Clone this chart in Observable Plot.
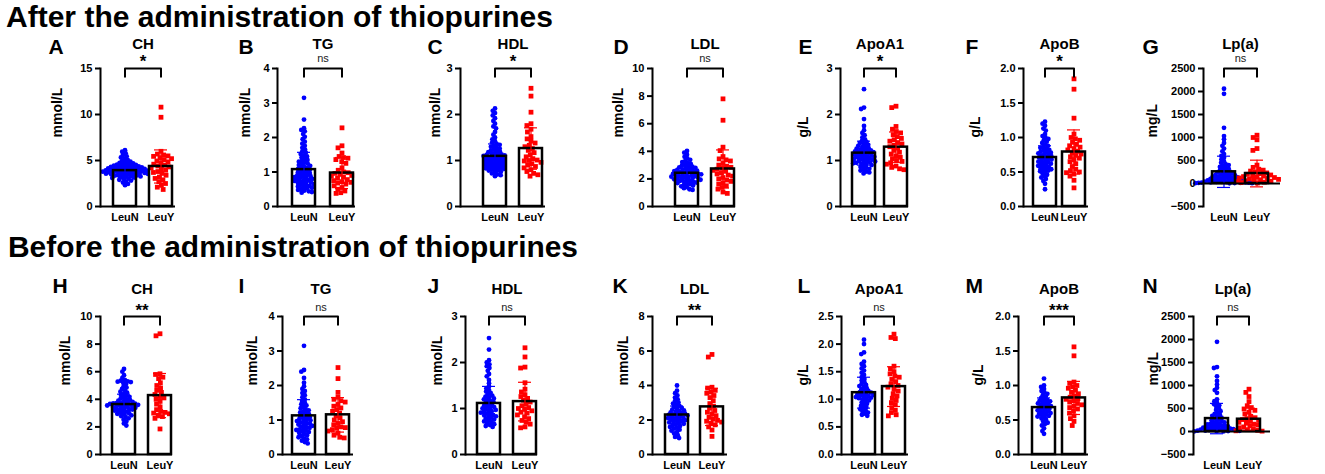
<!DOCTYPE html>
<html><head><meta charset="utf-8">
<script src="https://cdn.jsdelivr.net/npm/d3@7"></script>
<script src="https://cdn.jsdelivr.net/npm/@observablehq/plot@0.6"></script>
<style>
html,body{margin:0;padding:0;background:#fff;overflow:hidden}
#root{position:relative;width:1325px;height:474px;overflow:hidden}
</style></head><body><div id="root"></div>
<script>
// ---------------- DATA ----------------
const lipids = ["CH","TG","HDL","LDL","ApoA1","ApoB","Lp(a)"];
const units = ["mmol/L","mmol/L","mmol/L","mmol/L","g/L","g/L","mg/L"];
const groups = ["LeuN","LeuY"];
const rowTitles = ["After the administration of thiopurines","Before the administration of thiopurines"];
const lettersAfter = ["A","B","C","D","E","F","G"];
const lettersBefore = ["H","I","J","K","L","M","N"];
const sigAfter = ["*","ns","*","ns","*","*","ns"];
const sigBefore = ["**","ns","ns","**","ns","***","ns"];
const ticksAfter = [[0,5,10,15],[0,1,2,3,4],[0,1,2,3],[0,2,4,6,8,10],[0,1,2,3],[0,0.5,1,1.5,2],[-500,0,500,1000,1500,2000,2500]];
const ticksBefore = [[0,2,4,6,8,10],[0,1,2,3,4],[0,1,2,3],[0,2,4,6,8],[0,0.5,1,1.5,2,2.5],[0,0.5,1,1.5,2],[-500,0,500,1000,1500,2000,2500]];

// bar means and SDs
const afterMeanN = [3.9, 1.07, 1.09, 2.41, 1.16, 0.71, 254];
const afterSdN   = [0.75, 0.5, 0.27, 0.55, 0.26, 0.17, 340];
const afterMeanY = [4.35, 0.97, 1.26, 2.72, 1.29, 0.79, 217];
const afterSdY   = [1.8, 0.45, 0.45, 1.38, 0.33, 0.32, 290];
const beforeMeanN = [3.62, 1.12, 1.11, 2.29, 1.12, 0.68, 281];
const beforeSdN   = [0.75, 0.47, 0.37, 0.52, 0.28, 0.14, 330];
const beforeMeanY = [4.27, 1.15, 1.15, 2.76, 1.23, 0.82, 267];
const beforeSdY   = [1.6, 0.5, 0.42, 1.08, 0.36, 0.24, 240];

// individual points — after
const chAfterN = [6.12,5.95,5.78,5.6,5.45,5.33,5.18,5.06,4.97,4.88,4.81,4.75,4.69,4.64,4.58,4.55,4.51,4.47,4.44,4.4,4.38,4.35,4.31,4.29,4.26,4.22,4.2,4.18,4.15,4.12,4.1,4.06,4.05,4.02,4.0,3.98,3.95,3.93,3.91,3.89,3.86,3.85,3.82,3.8,3.78,3.75,3.74,3.71,3.69,3.66,3.65,3.62,3.6,3.57,3.55,3.51,3.5,3.47,3.43,3.41,3.38,3.35,3.31,3.27,3.24,3.2,3.15,3.1,3.04,2.98,2.9,2.82,2.72,2.6,2.45,2.32];
const chAfterY = [10.8,9.7,6.0,5.7,5.6,5.5,5.45,5.3,5.2,5.1,4.95,4.85,4.75,4.6,4.5,4.4,4.3,4.2,4.1,3.95,3.8,3.7,3.6,3.4,3.2,3.05,2.9,2.7,2.5,2.3,2.1,1.85];
const tgAfterN = [3.15,2.52,2.27,2.22,2.18,2.1,2.02,1.95,1.88,1.82,1.76,1.7,1.65,1.6,1.56,1.52,1.48,1.45,1.42,1.38,1.35,1.32,1.3,1.27,1.24,1.22,1.2,1.18,1.15,1.13,1.11,1.09,1.07,1.05,1.03,1.01,0.99,0.97,0.95,0.93,0.91,0.9,0.88,0.86,0.85,0.83,0.82,0.8,0.79,0.77,0.76,0.74,0.73,0.71,0.7,0.68,0.66,0.65,0.63,0.61,0.6,0.58,0.56,0.54,0.52,0.5,0.48,0.46,0.44,0.42,0.4];
const tgAfterY = [2.28,1.76,1.7,1.55,1.45,1.42,1.4,1.36,1.3,1.25,1.12,1.05,1.0,0.98,0.96,0.93,0.9,0.88,0.85,0.82,0.78,0.75,0.72,0.7,0.68,0.65,0.6,0.55,0.5,0.45,0.4,0.38];
const hdlAfterN = [2.13,2.08,2.03,1.98,1.92,1.86,1.8,1.74,1.7,1.62,1.56,1.5,1.46,1.42,1.39,1.36,1.34,1.32,1.3,1.28,1.26,1.24,1.22,1.21,1.19,1.18,1.16,1.15,1.14,1.13,1.12,1.11,1.1,1.09,1.08,1.07,1.06,1.05,1.04,1.03,1.02,1.01,1.0,0.99,0.98,0.97,0.96,0.95,0.94,0.93,0.92,0.91,0.9,0.89,0.88,0.87,0.86,0.85,0.84,0.83,0.82,0.81,0.8,0.79,0.78,0.76,0.74,0.72,0.7,0.68,0.66];
const hdlAfterY = [2.57,2.4,2.05,1.8,1.76,1.68,1.62,1.52,1.47,1.42,1.38,1.33,1.3,1.26,1.22,1.17,1.12,1.08,1.04,1.01,1.0,0.99,0.96,0.93,0.9,0.87,0.84,0.8,0.76,0.72,0.69,0.66];
const ldlAfterN = [4.02,3.9,3.75,3.6,3.48,3.38,3.3,3.22,3.15,3.08,3.02,2.97,2.92,2.88,2.84,2.8,2.76,2.72,2.69,2.66,2.63,2.6,2.57,2.54,2.51,2.48,2.46,2.43,2.41,2.38,2.36,2.33,2.31,2.28,2.26,2.23,2.21,2.18,2.16,2.13,2.11,2.08,2.06,2.03,2.0,1.97,1.94,1.91,1.88,1.85,1.82,1.78,1.74,1.7,1.66,1.62,1.57,1.52,1.46,1.4,1.33,1.25,1.2];
const ldlAfterY = [7.8,6.25,4.3,4.05,3.62,3.45,3.38,3.3,3.12,3.0,2.92,2.84,2.78,2.7,2.62,2.55,2.45,2.36,2.28,2.2,2.1,2.0,1.92,1.82,1.72,1.62,1.5,1.38,1.26,1.05,0.95];
const apoa1AfterN = [2.55,2.15,2.12,1.9,1.75,1.66,1.6,1.55,1.5,1.46,1.43,1.4,1.38,1.36,1.34,1.32,1.3,1.29,1.27,1.26,1.24,1.23,1.22,1.21,1.2,1.19,1.18,1.17,1.16,1.15,1.14,1.13,1.12,1.11,1.1,1.09,1.08,1.07,1.06,1.05,1.04,1.03,1.02,1.01,1.0,0.99,0.98,0.97,0.96,0.95,0.94,0.93,0.92,0.9,0.88,0.86,0.84,0.82,0.8,0.78,0.76,0.74,0.72];
const apoa1AfterY = [2.18,2.15,1.74,1.68,1.63,1.6,1.56,1.52,1.48,1.45,1.42,1.39,1.36,1.33,1.3,1.27,1.22,1.18,1.14,1.1,1.07,1.04,1.0,0.98,0.95,0.92,0.88,0.85,0.82,0.8];
const apobAfterN = [1.23,1.2,1.17,1.13,1.1,1.05,1.02,1.0,0.98,0.96,0.94,0.92,0.9,0.88,0.86,0.85,0.84,0.82,0.81,0.8,0.79,0.78,0.77,0.76,0.75,0.74,0.73,0.72,0.71,0.7,0.69,0.68,0.67,0.66,0.65,0.64,0.63,0.62,0.61,0.6,0.59,0.58,0.57,0.56,0.55,0.54,0.53,0.52,0.51,0.5,0.48,0.46,0.44,0.42,0.4,0.37,0.33,0.25];
const apobAfterY = [1.85,1.7,1.28,1.05,1.0,0.98,0.96,0.93,0.9,0.88,0.86,0.84,0.82,0.8,0.78,0.76,0.74,0.72,0.7,0.68,0.65,0.62,0.58,0.54,0.52,0.5,0.49,0.47,0.44,0.38,0.27];
const lpaAfterN = [2060,1950,1210,1030,960,880,820,760,700,640,600,560,520,480,450,420,400,380,360,340,320,300,285,270,255,240,228,215,205,195,185,175,165,158,150,142,135,128,120,113,106,100,94,88,82,76,70,65,60,55,50,46,42,38,34,30,27,24,21,18,15,12,10,8,6,5];
const lpaAfterY = [1050,1000,950,760,720,400,350,310,290,270,250,230,215,200,185,170,160,150,140,130,120,110,100,90,80,70,60,50,40,30,20,10];

// individual points — before
const chBeforeN = [6.2,6.0,5.75,5.55,5.4,5.35,5.3,5.28,5.25,5.2,5.1,4.95,4.85,4.75,4.65,4.55,4.48,4.4,4.32,4.25,4.18,4.12,4.06,4.0,3.95,3.9,3.86,3.82,3.78,3.75,3.72,3.7,3.68,3.66,3.64,3.62,3.6,3.58,3.55,3.52,3.5,3.47,3.44,3.41,3.38,3.35,3.32,3.29,3.26,3.22,3.18,3.14,3.1,3.05,3.0,2.95,2.9,2.84,2.78,2.7,2.62,2.52,2.4,2.25,2.1];
const chBeforeY = [8.75,8.6,5.85,5.8,5.6,5.5,5.2,5.0,4.82,4.65,4.5,4.35,4.2,4.1,4.0,3.85,3.65,3.45,3.25,3.12,3.05,3.0,2.95,2.85,2.75,2.62,1.85];
const tgBeforeN = [3.15,2.45,2.4,2.22,2.08,1.98,1.9,1.84,1.78,1.72,1.66,1.6,1.55,1.5,1.46,1.42,1.38,1.34,1.31,1.28,1.25,1.22,1.2,1.17,1.15,1.12,1.1,1.08,1.05,1.03,1.01,0.99,0.97,0.95,0.93,0.91,0.89,0.87,0.85,0.83,0.81,0.79,0.77,0.75,0.73,0.71,0.69,0.67,0.65,0.62,0.59,0.56,0.53,0.5,0.47,0.44,0.4,0.36,0.32];
const tgBeforeY = [2.52,2.2,1.8,1.66,1.6,1.56,1.52,1.45,1.4,1.35,1.3,1.25,1.2,1.12,1.06,1.0,0.95,0.9,0.86,0.8,0.78,0.76,0.72,0.68,0.62,0.56,0.5,0.48];
const hdlBeforeN = [2.53,2.28,2.05,2.0,1.96,1.92,1.88,1.82,1.75,1.7,1.62,1.55,1.48,1.44,1.4,1.37,1.34,1.31,1.28,1.26,1.24,1.22,1.2,1.18,1.16,1.14,1.12,1.1,1.08,1.06,1.04,1.03,1.01,1.0,0.98,0.97,0.95,0.94,0.92,0.91,0.89,0.88,0.86,0.85,0.83,0.82,0.8,0.78,0.76,0.74,0.72,0.7,0.68,0.66,0.64,0.62,0.6];
const hdlBeforeY = [2.32,2.12,1.9,1.88,1.56,1.42,1.36,1.3,1.26,1.22,1.18,1.14,1.1,1.06,1.02,1.0,0.98,0.95,0.92,0.9,0.86,0.82,0.78,0.74,0.7,0.66,0.6,0.58];
const ldlBeforeN = [4.0,3.7,3.55,3.42,3.3,3.2,3.1,3.02,2.95,2.88,2.82,2.76,2.7,2.65,2.6,2.56,2.52,2.48,2.44,2.41,2.38,2.35,2.32,2.29,2.26,2.23,2.2,2.17,2.14,2.11,2.08,2.05,2.02,1.99,1.96,1.93,1.9,1.86,1.82,1.78,1.74,1.7,1.65,1.6,1.55,1.5,1.44,1.38,1.3,1.22,1.12,1.02,0.95];
const ldlBeforeY = [5.8,5.65,3.9,3.85,3.72,3.62,3.55,3.42,3.3,3.12,2.95,2.8,2.68,2.55,2.45,2.35,2.25,2.15,2.05,1.98,1.93,1.88,1.82,1.72,1.6,1.42,1.05];
const apoa1BeforeN = [2.08,2.0,1.85,1.82,1.68,1.64,1.6,1.56,1.52,1.48,1.44,1.4,1.37,1.34,1.31,1.28,1.26,1.24,1.22,1.2,1.18,1.16,1.15,1.13,1.12,1.11,1.1,1.09,1.08,1.07,1.06,1.05,1.04,1.03,1.02,1.01,1.0,0.98,0.96,0.94,0.92,0.9,0.88,0.86,0.84,0.82,0.8,0.78,0.76,0.74,0.72,0.7];
const apoa1BeforeY = [2.18,2.12,2.1,1.6,1.55,1.5,1.46,1.42,1.4,1.36,1.32,1.28,1.25,1.22,1.18,1.15,1.1,1.06,1.02,0.98,0.94,0.9,0.85,0.8,0.76,0.72,0.7];
const apobBeforeN = [1.1,1.0,0.98,0.95,0.92,0.9,0.88,0.86,0.84,0.82,0.8,0.79,0.78,0.77,0.76,0.75,0.74,0.73,0.72,0.71,0.7,0.69,0.68,0.67,0.66,0.65,0.64,0.63,0.62,0.61,0.6,0.59,0.58,0.57,0.56,0.55,0.54,0.52,0.5,0.48,0.46,0.44,0.42,0.38,0.34,0.3];
const apobBeforeY = [1.56,1.43,1.05,1.03,1.0,0.98,0.96,0.93,0.9,0.88,0.85,0.83,0.81,0.8,0.78,0.76,0.74,0.72,0.7,0.68,0.66,0.63,0.6,0.56,0.52,0.48,0.42];
const lpaBeforeN = [1950,1400,1380,1200,1100,1020,950,900,840,700,660,620,590,570,540,500,470,440,410,385,360,340,320,300,280,262,245,230,215,200,188,176,165,155,145,135,126,118,110,102,95,88,81,74,68,62,56,50,45,40,35,30,26,22,18,14,10,7,4,2];
const lpaBeforeY = [920,850,760,650,560,520,490,460,420,380,330,300,280,260,240,220,200,180,160,140,120,100,80,60,40,25,15,8];

// ---------------- LAYOUT (pixels) ----------------
const layout = [
  { frameTop: 68, titleDy: -24, letterDy: -21, sigDy: -10,
    axisX: [100,277,460,652,840,1023,1203], bar1L: [113,292,483,675,852,1033,1212],
    bar2R: [172,353,542,734,907,1085,1268], axisEnd: [175,355,545,735,908,1088,1280],
    letterX: [48,238,427,613,798,965,1142], labelX: [57,245,435,618,803,975,1152] },
  { frameTop: 316, titleDy: -27, letterDy: -30, sigDy: -9,
    axisX: [100,282,465,652,841,1018,1193], bar1L: [112,292,477,665,852,1032,1205],
    bar2R: [171,349,536,723,905,1085,1260], axisEnd: [172,353,537,727,908,1088,1270],
    letterX: [52,238,427,612,797,965,1142], labelX: [65,252,437,623,803,978,1153] }
];

const blue = "#0000ff", red = "#ff0000";
const font = "'Liberation Sans', Arial, Helvetica, sans-serif";
const root = document.getElementById("root");

// row titles
const tsvg = d3.create("svg").attr("width", 1325).attr("height", 474)
  .style("position", "absolute").style("left", "0px").style("top", "0px");
[[rowTitles[0], 6, 27, 547], [rowTitles[1], 8, 257, 570]].forEach(([t, x, y, len]) => {
  tsvg.append("text").attr("x", x).attr("y", y).attr("textLength", len).attr("lengthAdjust", "spacingAndGlyphs")
    .attr("font-family", font).attr("font-weight", 700).attr("font-size", 29)
    .attr("fill", "#000").text(t);
});
root.appendChild(tsvg.node());

const rows = [
  { letters: lettersAfter, sig: sigAfter, ticks: ticksAfter, meanN: afterMeanN, sdN: afterSdN, meanY: afterMeanY, sdY: afterSdY,
    valsN: [chAfterN, tgAfterN, hdlAfterN, ldlAfterN, apoa1AfterN, apobAfterN, lpaAfterN],
    valsY: [chAfterY, tgAfterY, hdlAfterY, ldlAfterY, apoa1AfterY, apobAfterY, lpaAfterY] },
  { letters: lettersBefore, sig: sigBefore, ticks: ticksBefore, meanN: beforeMeanN, sdN: beforeSdN, meanY: beforeMeanY, sdY: beforeSdY,
    valsN: [chBeforeN, tgBeforeN, hdlBeforeN, ldlBeforeN, apoa1BeforeN, apobBeforeN, lpaBeforeN],
    valsY: [chBeforeY, tgBeforeY, hdlBeforeY, ldlBeforeY, apoa1BeforeY, apobBeforeY, lpaBeforeY] }
];

function panel(r, i) {
  const row = rows[r], L = layout[r];
  const mL = 60, mR = 8, mT = 45, mB = 28, fh = 138;
  const axisX = L.axisX[i];
  const frameW = L.axisEnd[i] - axisX;
  const width = mL + frameW + mR, height = mT + fh + mB;
  const r0 = L.bar1L[i] - axisX + mL, r1 = L.bar2R[i] - axisX + mL;
  const bw = 23, W = r1 - r0;
  const pin = (W - 2 * bw) / (W - bw);
  const c1 = r0 + bw / 2, c2 = r1 - bw / 2, fc = mL + frameW / 2, cm = (c1 + c2) / 2;
  const ticks = row.ticks[i];
  const ymin = d3.min(ticks), ymax = d3.max(ticks);
  const drop = (ymax - ymin) * 0.06;
  const summary = [
    { g: groups[0], m: row.meanN[i], s: row.sdN[i], c: blue },
    { g: groups[1], m: row.meanY[i], s: row.sdY[i], c: red }
  ];
  const caps = summary.flatMap(d => [{ g: d.g, v: d.m - d.s, c: d.c }, { g: d.g, v: d.m + d.s, c: d.c }]);
  const bracket = [{ g: groups[0], v: ymax - drop }, { g: groups[0], v: ymax }, { g: groups[1], v: ymax }, { g: groups[1], v: ymax - drop }];
  const dec = ticks.some(t => !Number.isInteger(t));
  const sig = row.sig[i], isNs = sig === "ns";
  // Plot shifts marks with an x channel on a band scale by bandwidth/2
  const shift = bw / 2;
  const chart = Plot.plot({
    width, height, marginLeft: mL, marginRight: mR, marginTop: mT, marginBottom: mB,
    style: { background: "transparent", overflow: "visible", fontFamily: font, fontWeight: "bold", fontSize: "11px", color: "black" },
    x: { type: "band", domain: groups, range: [r0, r1], paddingInner: pin, paddingOuter: 0, align: 0.5 },
    y: { domain: [ymin, ymax] },
    color: { type: "identity" },
    marks: [
      Plot.barY(summary, { x: "g", y: "m", fill: "white" }),
      Plot.dot(row.valsN[i], Plot.dodgeX({ anchor: "middle", r: 1.6, padding: 0 }, { y: d => d, r: 2.4, fill: blue, dx: c1 - fc - shift })),
      Plot.dot(row.valsY[i], Plot.dodgeX({ anchor: "middle", r: 2.1, padding: 0.3 }, { y: d => d, r: 2.7, symbol: "square", fill: red, dx: c2 - fc - shift })),
      Plot.barY(summary, { x: "g", y: "m", fill: "none", stroke: "black", strokeWidth: 2.5 }),
      Plot.ruleX(summary, { x: "g", y1: d => d.m - d.s, y2: d => d.m + d.s, stroke: d => d.c, strokeWidth: 1.2 }),
      Plot.tickY(caps, { x: "g", y: "v", stroke: d => d.c, strokeWidth: 1.2, insetLeft: 5, insetRight: 5 }),
      Plot.frame({ anchor: "left", strokeWidth: 2, stroke: "black" }),
      Plot.ruleY([0], { strokeWidth: 2, stroke: "black" }),
      Plot.axisY({ ticks, tickSize: 5, tickPadding: 3, strokeWidth: 2, tickFormat: dec ? d3.format(".1f") : d3.format("d"), label: null, fontWeight: "bold", fontSize: 11 }),
      Plot.axisX({ tickSize: 0, tickPadding: 7, label: null, fontSize: 11, fontWeight: "bold" }),
      Plot.line(bracket, { x: "g", y: "v", strokeWidth: 2, stroke: "black" }),
      Plot.text([sig], { text: d => d, frameAnchor: "top", lineAnchor: "middle", dx: cm - fc, dy: isNs ? L.sigDy : L.sigDy + 3, fontSize: isNs ? 11 : 17, fontWeight: isNs ? "normal" : "bold", fill: isNs ? "#222" : "black" }),
      Plot.text([lipids[i]], { text: d => d, frameAnchor: "top", lineAnchor: "middle", dx: cm - fc, dy: L.titleDy, fontSize: 15, fontWeight: "bold" }),
      Plot.text([row.letters[i]], { text: d => d, frameAnchor: "top-left", lineAnchor: "middle", textAnchor: "start", dx: L.letterX[i] - axisX, dy: L.letterDy, fontSize: 21, fontWeight: "bold" }),
      Plot.text([units[i]], { text: d => d, frameAnchor: "left", lineAnchor: "middle", rotate: -90, dx: L.labelX[i] - axisX, fontSize: 14, fontWeight: "bold" })
    ]
  });
  chart.style.position = "absolute";
  chart.style.left = (axisX - mL) + "px";
  chart.style.top = (L.frameTop - mT) + "px";
  root.appendChild(chart);
}

for (let r = 0; r < 2; r++) for (let i = 0; i < 7; i++) panel(r, i);
</script></body></html>
